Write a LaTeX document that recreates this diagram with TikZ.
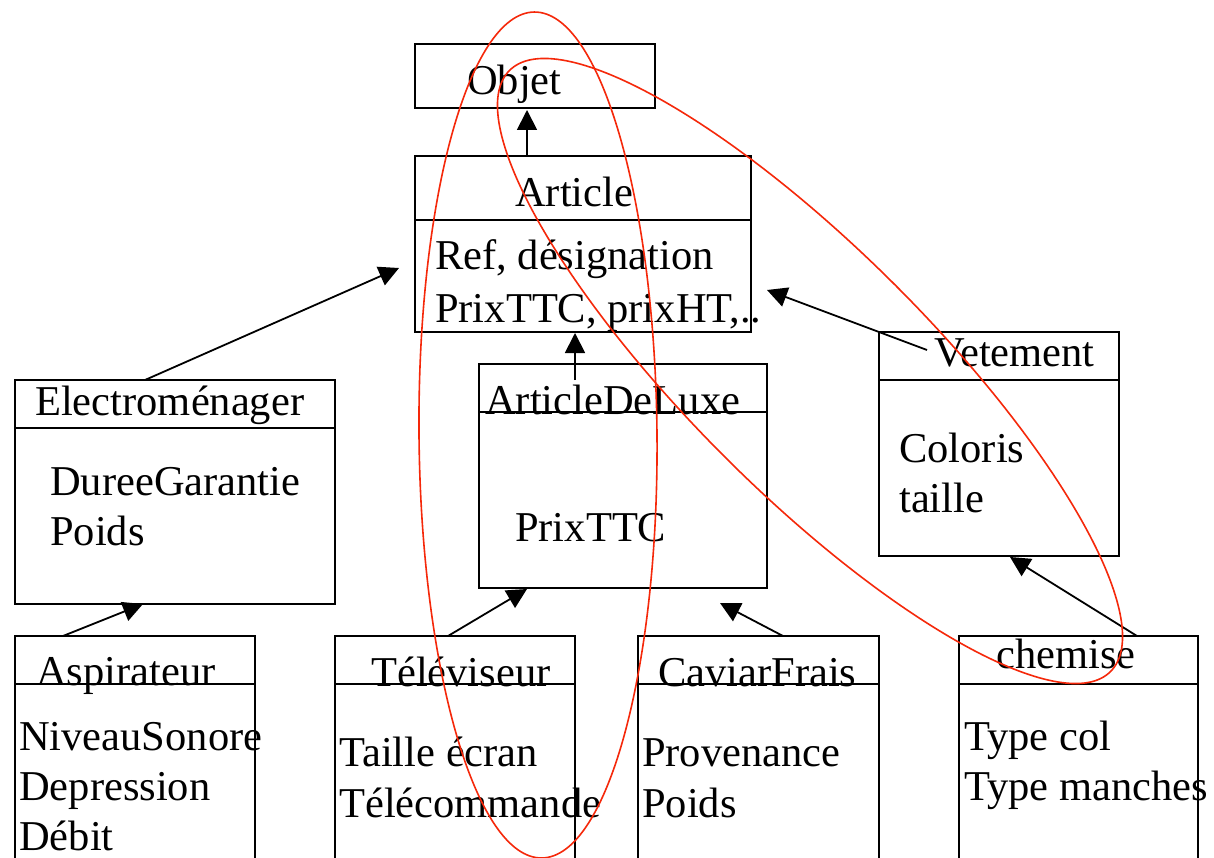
\documentclass[tikz,border=0pt]{standalone}
\usepackage{fontspec}
\setmainfont{Liberation Serif}
\usetikzlibrary{arrows.meta}
\definecolor{markred}{RGB}{245,40,10}
\tikzset{
  cls/.style={draw=black, line width=1.8pt, inner sep=0pt, outer sep=0pt, anchor=north west},
  sep/.style={draw=black, line width=1.8pt},
  lbl/.style={inner sep=0pt, anchor=base west, font=\fontsize{42.5}{48}\selectfont},
  inh/.style={draw=black, line width=1.8pt, -{Triangle[length=20pt, width=20pt]}},
  loop/.style={draw=markred, line width=1.6pt},
}
\begin{document}
\begin{tikzpicture}[x=1pt, y=1pt]
\useasboundingbox (0,0) rectangle (1214,-858);
\clip (0,0) rectangle (1214,-858);
\fill[white] (0,0) rectangle (1214,-858);

% class boxes
\node[cls, minimum width=240pt, minimum height=64pt]  (objet)   at (415,-44)  {};
\node[cls, minimum width=336pt, minimum height=176pt] (article) at (415,-156) {};
\node[cls, minimum width=320pt, minimum height=224pt] (elec)    at (15,-380)  {};
\node[cls, minimum width=288pt, minimum height=224pt] (luxe)    at (479,-364) {};
\node[cls, minimum width=240pt, minimum height=224pt] (vet)     at (879,-332) {};
\node[cls, minimum width=240pt, minimum height=240pt] (aspi)    at (15,-636)  {};
\node[cls, minimum width=240pt, minimum height=240pt] (tele)    at (335,-636) {};
\node[cls, minimum width=241pt, minimum height=240pt] (caviar)  at (638,-636) {};
\node[cls, minimum width=239pt, minimum height=240pt] (chem)    at (959,-636) {};

% header separators
\draw[sep] (article.west |- 0,-220) -- (article.east |- 0,-220);
\draw[sep] (elec.west |- 0,-428) -- (elec.east |- 0,-428);
\draw[sep] (luxe.west |- 0,-412) -- (luxe.east |- 0,-412);
\draw[sep] (vet.west |- 0,-380) -- (vet.east |- 0,-380);
\draw[sep] (aspi.west |- 0,-684) -- (aspi.east |- 0,-684);
\draw[sep] (tele.west |- 0,-684) -- (tele.east |- 0,-684);
\draw[sep] (caviar.west |- 0,-684) -- (caviar.east |- 0,-684);
\draw[sep] (chem.west |- 0,-684) -- (chem.east |- 0,-684);

% class names and attributes
\node[lbl] (objetT)  at (467,-95)  {Objet};
\node[lbl] (artT)    at (515,-207) {Article};
\node[lbl] (artA1)   at (435,-270) {Ref, désignation};
\node[lbl] (artA2)   at (435,-322) {PrixTTC, prixHT,..};
\node[lbl] (elecT)   at (35,-415)  {Electroménager};
\node[lbl] (elecA1)  at (50,-495)  {DureeGarantie};
\node[lbl] (elecA2)  at (50,-545)  {Poids};
\node[lbl] (luxeT)   at (485,-414) {ArticleDeLuxe};
\node[lbl] (luxeA1)  at (515,-541) {PrixTTC};
\node[lbl] (vetT)    at (934,-366) {Vetement};
\node[lbl] (vetA1)   at (899,-462) {Coloris};
\node[lbl] (vetA2)   at (899,-512) {taille};
\node[lbl] (aspiT)   at (36,-685)  {Aspirateur};
\node[lbl] (aspiA1)  at (19,-750)  {NiveauSonore};
\node[lbl] (aspiA2)  at (19,-800)  {Depression};
\node[lbl] (aspiA3)  at (19,-850)  {Débit};
\node[lbl] (teleT)   at (371,-686) {Téléviseur};
\node[lbl] (teleA1)  at (339,-766) {Taille écran};
\node[lbl] (teleA2)  at (339,-817) {Télécommande};
\node[lbl] (cavT)    at (658,-686) {CaviarFrais};
\node[lbl] (cavA1)   at (642,-766) {Provenance};
\node[lbl] (cavA2)   at (642,-817) {Poids};
\node[lbl] (chemT)   at (996,-668) {chemise};
\node[lbl] (chemA1)  at (964,-750) {Type col};
\node[lbl] (chemA2)  at (964,-800) {Type manches};

% inheritance arrows
\coordinate (objIn)   at (527,-110);
\coordinate (artOut)  at (527,-156);
\coordinate (artInL)  at (399,-268);
\coordinate (artInB)  at (575,-333);
\coordinate (artInR)  at (767,-290);
\coordinate (elecOut) at (145,-380);
\coordinate (luxeOut) at (575,-380);
\coordinate (vetOut)  at (927,-350);
\coordinate (elecIn)  at (143,-604);
\coordinate (aspiOut) at (63,-636);
\coordinate (luxeInL) at (527,-589);
\coordinate (teleOut) at (448,-636);
\coordinate (luxeInR) at (720,-603);
\coordinate (cavOut)  at (783,-636);
\coordinate (vetIn)   at (1010,-557);
\coordinate (chemOut) at (1137,-636);

\draw[inh] (artOut)  -- (objIn);
\draw[inh] (elecOut) -- (artInL);
\draw[inh] (luxeOut) -- (artInB);
\draw[inh] (vetOut)  -- (artInR);
\draw[inh] (aspiOut) -- (elecIn);
\draw[inh] (teleOut) -- (luxeInL);
\draw[inh] (cavOut)  -- (luxeInR);
\draw[inh] (chemOut) -- (vetIn);

% hand-drawn red loops
\draw[loop, rotate around={0.5:(538,-435)}] (538,-435) ellipse [x radius=119, y radius=423];
\draw[loop, rotate around={-45:(810,-371)}] (810,-371) ellipse [x radius=425, y radius=121];
\end{tikzpicture}
\end{document}
